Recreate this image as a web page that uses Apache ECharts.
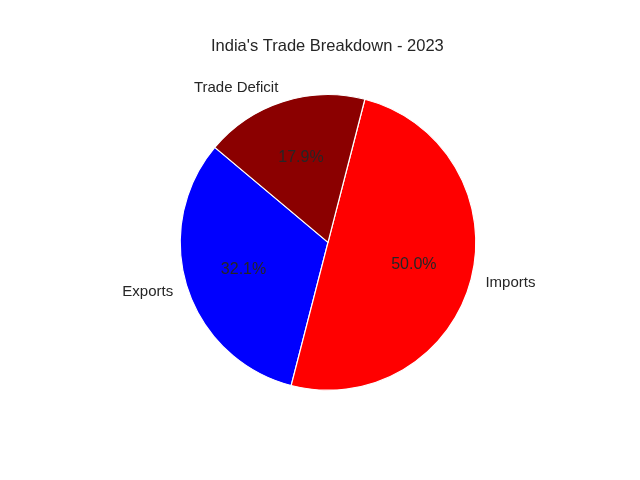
<!DOCTYPE html>
<html>
<head>
<meta charset="utf-8">
<script src="https://cdn.jsdelivr.net/npm/echarts@6/dist/echarts.min.js"></script>
<style>
    html, body { margin: 0; padding: 0; background: #fff; }
    #main { width: 640px; height: 480px; }
</style>
</head>
<body>
<div id="main"></div>
<script>
// 数据
var tradeNames = ['Exports', 'Imports', 'Trade Deficit'];
var tradeValues = [32.1, 50.0, 17.9];
var tradeColors = ['#0000ff', '#ff0000', '#8b0000'];

var textColor = '#262626';
var fontFamily = 'Liberation Sans, Arial, sans-serif';
var pieR = 147.8;
var pieCenter = [328, 242.4];

function buildData() {
    var data = [];
    for (var i = 0; i < tradeNames.length; i++) {
        data.push({ name: tradeNames[i], value: tradeValues[i] });
    }
    return data;
}

var myChart = echarts.init(document.getElementById('main'));

var option = {
    animation: false,
    color: tradeColors,
    title: {
        // 标题居中于饼图（而非整个画布）
        text: "India's Trade Breakdown - 2023",
        left: 206,
        top: 33,
        textStyle: {
            color: textColor,
            fontFamily: fontFamily,
            fontSize: 16.5,
            fontWeight: 'normal'
        }
    },
    series: [{
        // 扇区 + 外部名称
        type: 'pie',
        center: pieCenter,
        radius: pieR,
        startAngle: 140,
        clockwise: false,
        avoidLabelOverlap: false,
        silent: true,
        data: buildData(),
        itemStyle: {
            borderColor: '#ffffff',
            borderWidth: 1.2
        },
        label: {
            show: true,
            position: 'outer',
            distanceToLabelLine: 0,
            formatter: '{b}',
            color: textColor,
            fontFamily: fontFamily,
            fontSize: 15
        },
        labelLine: {
            show: false,
            length: pieR * 0.1,
            length2: 0
        }
    }, {
        // 百分比标签 (透明)
        type: 'pie',
        center: pieCenter,
        radius: 2 * (pieR * 0.6 - 3),
        startAngle: 140,
        clockwise: false,
        avoidLabelOverlap: false,
        silent: true,
        percentPrecision: 1,
        data: buildData(),
        itemStyle: {
            color: 'rgba(0,0,0,0)',
            borderWidth: 0
        },
        label: {
            show: true,
            position: 'inside',
            formatter: function (p) {
                return p.percent.toFixed(1) + '%';
            },
            color: textColor,
            fontFamily: fontFamily,
            fontSize: 16
        },
        labelLine: { show: false }
    }]
};

myChart.setOption(option, true);
</script>
</body>
</html>
